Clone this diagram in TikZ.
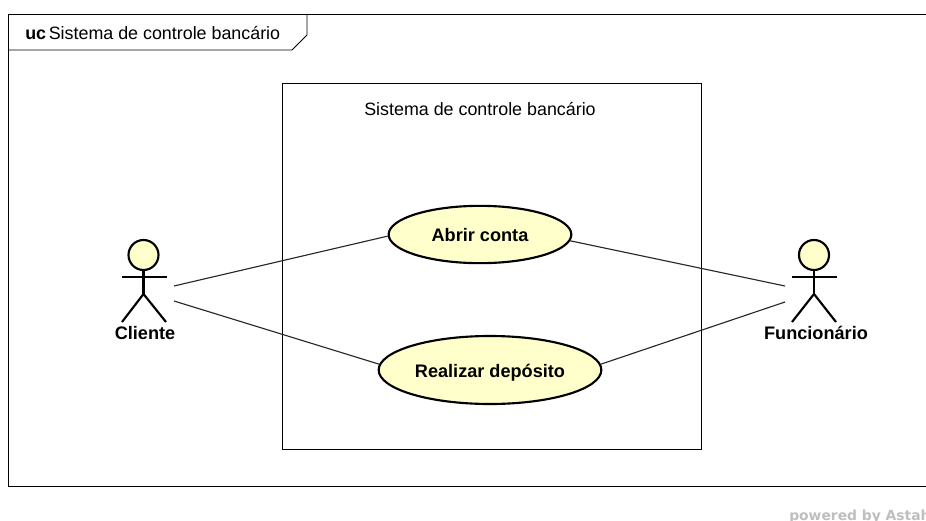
\documentclass[tikz,border=0pt]{standalone}
\usepackage{fontspec}
\setmainfont{Liberation Sans}
\newfontfamily\stampfont{DejaVu Sans}
\usetikzlibrary{shapes.geometric}
\definecolor{usecasefill}{RGB}{255,255,204}
\definecolor{stampgray}{RGB}{190,190,190}
\definecolor{linegray}{RGB}{40,40,40}
\newcommand{\ucfont}{\fontsize{13.4}{16}\selectfont}
\newcommand{\ucboldfont}{\fontsize{13.6}{16}\selectfont\bfseries}
\begin{document}
\begin{tikzpicture}[
    x=0.75pt,
    y=-0.75pt,
    font=\ucfont,
    frameline/.style={draw=black, line width=0.7pt},
    boundary/.style={draw=black, line width=0.7pt},
    usecase/.style={ellipse, draw=black, line width=1.6pt, fill=usecasefill, inner sep=0, text height=10.5pt, text depth=0pt, font=\ucboldfont},
    actorhead/.style={circle, draw=black, line width=1.6pt, fill=usecasefill, inner sep=0, minimum size=22.5pt},
    actorline/.style={draw=black, line width=1.6pt},
    actorname/.style={anchor=base, inner sep=0, font=\ucboldfont},
    assoc/.style={draw=linegray, line width=0.85pt}]
\clip (0,0) rectangle (926,521);
\useasboundingbox (0,0) rectangle (926,521);

% frame and tab
\path[frameline] (926,14) -- (8,14) -- (8,486) -- (926,486);
\path[frameline] (8,50) -- (292,50) -- (307,35) -- (307,14);
\node (TabTitle) [anchor=base west, inner sep=0] at (25,40) {\textbf{uc}\hspace{2pt}Sistema de controle bancário};

% system boundary
\path[boundary] (282.5,83) rectangle (701,449);
\node (SystemTitle) [anchor=base, inner sep=0] at (480,115) {Sistema de controle bancário};

% use cases
\node (AbrirConta) [usecase, minimum width=137pt, minimum height=43pt] at (480,234.5) {Abrir conta};
\node (RealizarDeposito) [usecase, minimum width=167pt, minimum height=51pt] at (490,370) {Realizar depósito};

% actors
\node (ClienteHead) [actorhead] at (143.5,255) {};
\coordinate (ClienteHip) at (143.5,294);
\path[actorline] (ClienteHead) -- (ClienteHip);
\path[actorline] (122,277) -- (167,277);
\path[actorline] (122,322) -- (ClienteHip) -- (166,322);
\node (Cliente) [actorname] at (145,339) {Cliente};

\node (FuncionarioHead) [actorhead] at (814,255) {};
\coordinate (FuncionarioHip) at (814,294);
\path[actorline] (FuncionarioHead) -- (FuncionarioHip);
\path[actorline] (792,277) -- (836.5,277);
\path[actorline] (792,322) -- (FuncionarioHip) -- (836,322);
\node (Funcionario) [actorname] at (816,339) {Funcionário};

% associations
\coordinate (ClienteA) at (174,286);
\coordinate (ClienteB) at (174,301);
\coordinate (FuncionarioA) at (785,286);
\coordinate (FuncionarioB) at (785,302);
\path[assoc] (ClienteA) -- (AbrirConta.181);
\path[assoc] (ClienteB) -- (RealizarDeposito.177);
\path[assoc] (FuncionarioA) -- (AbrirConta.356);
\path[assoc] (FuncionarioB) -- (RealizarDeposito.3);

\node (PoweredBy) [anchor=base west, inner sep=0, text=stampgray, font=\stampfont\bfseries\fontsize{10.4}{12}\selectfont] at (789,520) {powered by Astah};
\end{tikzpicture}
\end{document}
